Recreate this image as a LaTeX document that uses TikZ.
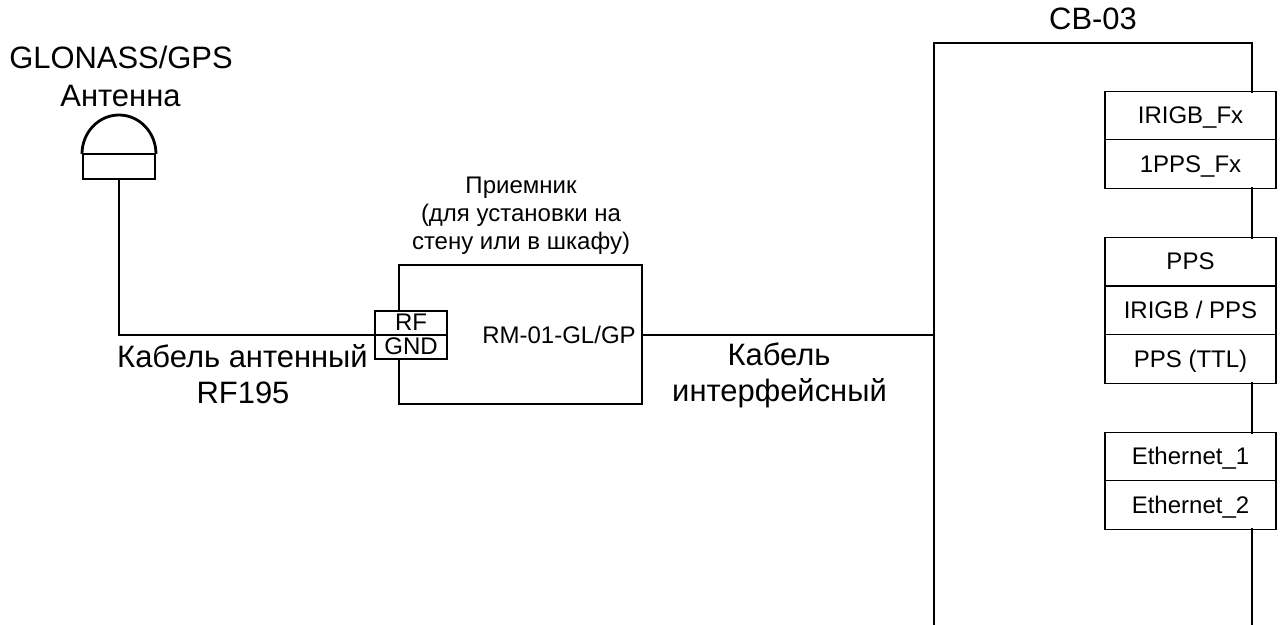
\documentclass[tikz,border=0pt]{standalone}
\usepackage{fontspec}
\setmainfont{Liberation Sans}
\tikzset{
  wire/.style={line width=2.1pt,line cap=rect,line join=miter},
  port/.style={draw,line width=1pt,outer sep=0pt,minimum width=128.25pt,minimum height=36.4pt,inner sep=0pt,text height=12pt,text depth=0pt,font=\fontsize{18}{20}\selectfont},
  rfport/.style={draw,line width=1pt,outer sep=0pt,minimum width=54pt,minimum height=18pt,inner sep=0pt,text height=10.5pt,text depth=0pt,font=\fontsize{18}{18}\selectfont},
  big/.style={inner sep=0pt,anchor=base,font=\fontsize{23.2}{26}\selectfont},
  small/.style={inner sep=0pt,anchor=base,font=\fontsize{18}{20}\selectfont}
}
\begin{document}
\begin{tikzpicture}[x=0.75pt,y=-0.75pt]
\useasboundingbox (0,0) rectangle (1283,625);
% ports of CB-03
\node[port] (irigbfx) at (1190.5,115.5) {IRIGB\_Fx};
\node[port] (ppsfx) at (1190.5,164) {1PPS\_Fx};
\node[port] (pps) at (1190.5,261.5) {PPS};
\node[port] (irigbpps) at (1190.5,310.5) {IRIGB / PPS};
\node[port] (ppsttl) at (1190.5,359) {PPS (TTL)};
\node[port] (eth1) at (1190.5,456.5) {Ethernet\_1};
\node[port] (eth2) at (1190.5,505) {Ethernet\_2};
% CB-03 body
\coordinate (cbtl) at (934,43);
\coordinate (cbtr) at (1252,43);
\coordinate (cbbl) at (934,630);
\coordinate (cbbr) at (1252,630);
\coordinate (cbj) at (934,335);
\begin{scope}
\clip (0,0) rectangle (1283,625);
\draw[wire] (cbbl) -- (cbtl) -- (cbtr) -- (cbtr |- irigbfx.north);
\draw[wire] (cbtr |- ppsfx.south) -- (cbtr |- pps.north);
\draw[wire] (cbtr |- ppsttl.south) -- (cbtr |- eth1.north);
\draw[wire] (cbtr |- eth2.south) -- (cbbr);
\end{scope}
\node[big] (cblabel) at (1093,29) {CB-03};
% receiver
\coordinate (rxtl) at (399,265);
\coordinate (rxtr) at (642,265);
\coordinate (rxbl) at (399,404);
\coordinate (rxbr) at (642,404);
\node[rfport] (rf) at (411,323) {RF};
\node[rfport] (gnd) at (411,347) {GND};
\coordinate (rxr) at (642,335);
\draw[wire] (rf.north -| rxtl) -- (rxtl) -- (rxtr) -- (rxbr) -- (rxbl) -- (gnd.south -| rxbl);
\node[small] (rxname) at (559,343) {RM-01-GL/GP};
\node[small] (rx1) at (521,193) {Приемник};
\node[small] (rx2) at (521,221) {(для установки на};
\node[small] (rx3) at (521,249) {стену или в шкафу)};
% antenna
\node[draw,line width=2.1pt,outer sep=0pt,minimum width=54pt,minimum height=18.75pt,inner sep=0pt] (antbase) at (119,166.5) {};
\coordinate (domeleft) at (82,154);
\draw[wire,line cap=butt] (domeleft) arc[start angle=180,end angle=360,x radius=37,y radius=39];
\node[big] (glonass) at (121,68) {GLONASS/GPS};
\node[big] (anttext) at (120.5,106) {Антенна};
% cables
\coordinate (antcorner) at (119,335);
\draw[wire] (antbase.south) -- (antcorner) -- (rf.south west);
\draw[wire] (rxr) -- (cbj);
\node[big] (cab1a) at (242.5,367) {Кабель антенный};
\node[big] (cab1b) at (243,403) {RF195};
\node[big] (cab2a) at (779,365) {Кабель};
\node[big] (cab2b) at (779.5,401) {интерфейсный};
\end{tikzpicture}
\end{document}
